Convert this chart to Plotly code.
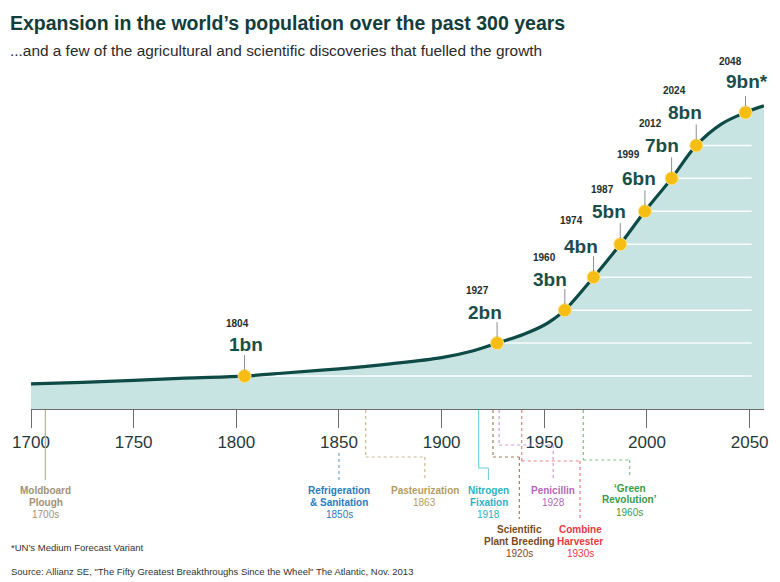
import plotly.graph_objects as go

# ---------------- data ----------------
years = [1700, 1725, 1750, 1775, 1804, 1825, 1850, 1875, 1900, 1915, 1927, 1940, 1950, 1955,
         1960, 1974, 1987, 1999, 2012, 2024, 2036, 2048, 2057]
population_bn = [0.76, 0.81, 0.87, 0.94, 1.0, 1.1, 1.22, 1.37, 1.56, 1.76, 2.0, 2.27, 2.55, 2.75,
                 3.0, 4.0, 5.0, 6.0, 7.0, 8.0, 8.64, 9.0, 9.2]

milestone_years = [1804, 1927, 1960, 1974, 1987, 1999, 2012, 2024, 2048]
milestone_values = [1, 2, 3, 4, 5, 6, 7, 8, 9]
milestone_labels = ["1bn", "2bn", "3bn", "4bn", "5bn", "6bn", "7bn", "8bn", "9bn*"]

tick_years = [1700, 1750, 1800, 1850, 1900, 1950, 2000, 2050]
grid_levels = [1, 2, 3, 4, 5, 6, 7, 8, 9]

discovery_names = [["Moldboard", "Plough"], ["Refrigeration", "& Sanitation"], ["Pasteurization"],
                   ["Nitrogen", "Fixation"], ["Scientific", "Plant Breeding"], ["Penicillin"],
                   ["Combine", "Harvester"], ["‘Green", "Revolution’"]]
discovery_dates = ["1700s", "1850s", "1863", "1918", "1920s", "1928", "1930s", "1960s"]
discovery_years = [1707, 1850, 1863, 1918, 1925, 1928, 1939, 1969]

# ---------------- styles / layout ----------------
FONT = "Liberation Sans, Arial, Helvetica, sans-serif"
DARK = "#133d3b"
TEAL_TXT = "#1b4e4a"
FILL = "#c7e4e2"
LINE = "#0e4a46"
DOT = "#f6be12"

W, H = 780, 582
L, R, T, B = 30, 13, 96, 173
PW, PH = W - L - R, H - T - B
X0, X1 = 1700, 2057
Y0, Y1 = 0, 9.5


def xdata(px):
    return X0 + (px - L) / PW * (X1 - X0)


def py(pix):
    return (H - B - pix) / PH


def pxp(px):
    return (px - L) / PW


fig = go.Figure()

# filled area
fig.add_trace(go.Scatter(x=years, y=population_bn, mode="lines", line=dict(width=0, shape="spline", smoothing=1.0),
                         fill="tozeroy", fillcolor=FILL, hoverinfo="skip", showlegend=False))

# white grid lines inside the area
gx, gy = [], []
for v in grid_levels:
    gx += [1700, 2051, None]
    gy += [v, v, None]
fig.add_trace(go.Scatter(x=gx, y=gy, mode="lines", line=dict(color="rgba(255,255,255,0.9)", width=1.5),
                         hoverinfo="skip", showlegend=False))

# population curve
fig.add_trace(go.Scatter(x=years, y=population_bn, mode="lines",
                         line=dict(color=LINE, width=3.2, shape="spline", smoothing=1.0),
                         hoverinfo="skip", showlegend=False))

# milestone dots
fig.add_trace(go.Scatter(x=milestone_years, y=milestone_values, mode="markers",
                         marker=dict(size=13, color=DOT, line=dict(color="#fbe28f", width=1)),
                         cliponaxis=False, hoverinfo="skip", showlegend=False))

shapes = []
annotations = []

# milestone labels: (year dx, year dy, bn dx, bn dy) in pixels
offsets = [(-7, 53, 1, 32), (-20, 53, -12, 31), (-20, 53, -15, 31), (-22, 57, -13, 31),
           (-18, 55, -11, 33), (-16, 57, -6, 33), (-21, 55, -10, 33), (-22, 55, -11, 33),
           (-15, 51, 1, 31)]
for yr, v, lab, (ydx, ydy, bdx, bdy) in zip(milestone_years, milestone_values, milestone_labels, offsets):
    shapes.append(dict(type="line", xref="x", yref="y", xsizemode="pixel", ysizemode="pixel",
                       xanchor=yr, yanchor=v, x0=0, x1=0, y0=6, y1=21,
                       line=dict(color="#8a8f8f", width=1), layer="above"))
    annotations.append(dict(x=yr, y=v, xref="x", yref="y", text=f"<b>{yr}</b>", showarrow=False,
                            xshift=ydx, yshift=ydy, font=dict(family=FONT, size=10, color="#1e2e2d")))
    annotations.append(dict(x=yr, y=v, xref="x", yref="y", text=f"<b>{lab}</b>", showarrow=False,
                            xshift=bdx, yshift=bdy, font=dict(family=FONT, size=19, color=TEAL_TXT)))

# discoveries (label center x px, start y px, elbow y px, label top px, text colour, line colour, dash)
disc_style = [
    (45, 410, None, 480, "#a09378", "#b9b2a2", "solid"),
    (340, 453, None, 480, "#2b7bbf", "#6ea6d6", "dot"),
    (426, 410, 457, 480, "#b59c62", "#c9b98d", "dot"),
    (490, 410, 468, 480, "#2bb3c7", "#7fd0dc", "solid"),
    (521, 410, 457, 519, "#7a4a25", "#a08064", "dot"),
    (555, 410, 445, 480, "#b667b8", "#cf9bd0", "dot"),
    (582, 410, 461, 519, "#e8393f", "#ee7d80", "dot"),
    (632, 410, 460, 478, "#3a9b48", "#7cbf86", "dot"),
]
LINE_GAP = 12
for name, date, yr, (lx, ys, ye, ytop, col, lcol, dash) in zip(discovery_names, discovery_dates,
                                                              discovery_years, disc_style):
    ln = dict(color=lcol, width=1.2, dash=dash)
    if ye is None:
        shapes.append(dict(type="line", xref="x", yref="paper", x0=yr, x1=yr, y0=py(ys), y1=py(ytop), line=ln))
    else:
        shapes.append(dict(type="line", xref="x", yref="paper", x0=yr, x1=yr, y0=py(ys), y1=py(ye), line=ln))
        shapes.append(dict(type="line", xref="x", yref="paper", x0=yr, x1=xdata(lx), y0=py(ye), y1=py(ye), line=ln))
        shapes.append(dict(type="line", xref="x", yref="paper", x0=xdata(lx), x1=xdata(lx), y0=py(ye), y1=py(ytop), line=ln))
    lines = [f"<b>{t}</b>" for t in name] + [date]
    for i, t in enumerate(lines):
        annotations.append(dict(x=xdata(lx), y=py(ytop + 10 + i * LINE_GAP), xref="x", yref="paper",
                                xanchor="center", yanchor="middle", text=t, showarrow=False,
                                font=dict(family=FONT, size=10, color=col)))

# title, subtitle, footnotes
annotations += [
    dict(x=pxp(7), y=py(23), xref="paper", yref="paper", xanchor="left", yanchor="middle",
         text="<b>Expansion in the world’s population over the past 300 years</b>", showarrow=False,
         font=dict(family=FONT, size=19.5, color=DARK)),
    dict(x=pxp(7), y=py(50), xref="paper", yref="paper", xanchor="left", yanchor="middle",
         text="...and a few of the agricultural and scientific discoveries that fuelled the growth",
         showarrow=False, font=dict(family=FONT, size=15.4, color="#2b2b2b")),
    dict(x=pxp(8), y=py(547), xref="paper", yref="paper", xanchor="left", yanchor="middle",
         text="*UN’s Medium Forecast Variant", showarrow=False, font=dict(family=FONT, size=9.5, color="#333")),
    dict(x=pxp(8), y=py(571), xref="paper", yref="paper", xanchor="left", yanchor="middle",
         text="Source: Allianz SE, \"The Fifty Greatest Breakthroughs Since the Wheel\" The Atlantic, Nov. 2013",
         showarrow=False, font=dict(family=FONT, size=9.5, color="#333")),
]

fig.update_layout(
    width=W, height=H, margin=dict(l=L, r=R, t=T, b=B),
    paper_bgcolor="white", plot_bgcolor="white",
    showlegend=False, shapes=shapes, annotations=annotations, hovermode=False,
    xaxis=dict(range=[X0, X1], tickvals=tick_years, ticktext=[str(t) for t in tick_years],
               showgrid=False, zeroline=False, showline=True, linecolor="#6b6b6b", linewidth=1,
               ticks="outside", ticklen=18, tickcolor="#6b6b6b", tickwidth=1,
               tickfont=dict(family=FONT, size=17, color="#1f3b39"), fixedrange=True),
    yaxis=dict(range=[Y0, Y1], visible=False, showgrid=False, zeroline=False, fixedrange=True),
)

fig.write_html("out.html", config={"displayModeBar": False, "staticPlot": True},
               post_script="document.body.style.margin='0';document.body.style.overflow='hidden';")
